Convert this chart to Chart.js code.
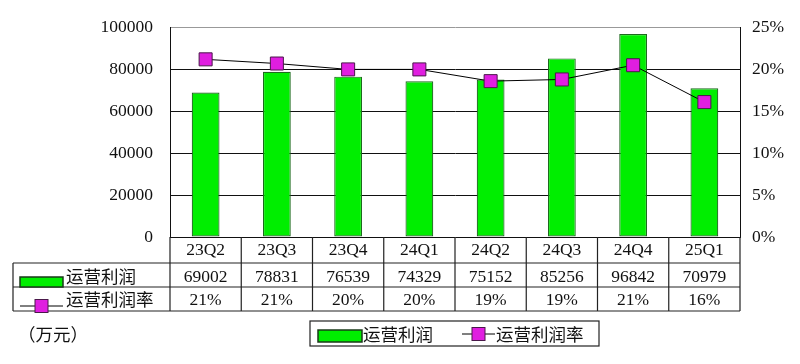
<!DOCTYPE html>
<html>
<head>
<meta charset="utf-8">
<script src="https://cdn.jsdelivr.net/npm/chart.js@4/dist/chart.umd.min.js"></script>
<style>
  html, body { margin: 0; padding: 0; background: #fff; }
  #wrap { width: 800px; height: 364px; }
</style>
</head>
<body>
<div id="wrap"><canvas id="chart" width="800" height="364"></canvas></div>
<script>
const quarters = ["23Q2", "23Q3", "23Q4", "24Q1", "24Q2", "24Q3", "24Q4", "25Q1"];
const profit = [69002, 78831, 76539, 74329, 75152, 85256, 96842, 70979];
const margin = [0.212, 0.207, 0.200, 0.200, 0.186, 0.188, 0.205, 0.161];
const marginLabels = ["21%", "21%", "20%", "20%", "19%", "19%", "21%", "16%"];
const profitName = "运营利润";
const marginName = "运营利润率";
const unitLabel = "（万元）";

const GREEN = "#00ee00";
const GREEN_EDGE = "#1e6a1e";
const PINK = "#e01ee0";
const PINK_EDGE = "#4a184a";
const NUM_FAMILY = "'Liberation Serif', 'DejaVu Serif', serif";
const NUM_FONT = "17.5px " + NUM_FAMILY;
const CJK_FONT = "17.5px 'Noto Sans CJK SC', sans-serif";

function drawSwatch(ctx, x, y, w, h) {
    ctx.fillStyle = GREEN;
    ctx.fillRect(x, y, w, h);
    ctx.strokeStyle = "#1a3a1a";
    ctx.lineWidth = 1.5;
    ctx.strokeRect(x, y, w, h);
}

function drawLineMarker(ctx, x1, x2, y) {
    ctx.strokeStyle = "#000";
    ctx.lineWidth = 1;
    ctx.beginPath();
    ctx.moveTo(x1, y);
    ctx.lineTo(x2, y);
    ctx.stroke();
    const cx = (x1 + x2) / 2;
    ctx.fillStyle = PINK;
    ctx.fillRect(cx - 6.5, y - 6.5, 13, 13);
    ctx.strokeStyle = PINK_EDGE;
    ctx.strokeRect(cx - 6.5, y - 6.5, 13, 13);
}

// data table under the plot + legend box, laid out from the x scale
const tablePlugin = {
    id: "dataTable",
    afterDraw(chart) {
        const ctx = chart.ctx;
        const x = chart.scales.x;
        const area = chart.chartArea;
        const half = (area.right - area.left) / quarters.length / 2;
        const rows = [area.bottom, area.bottom + 26, area.bottom + 50, area.bottom + 74];
        const tableLeft = 13;

        ctx.save();
        ctx.strokeStyle = "#222";
        ctx.lineWidth = 1.2;
        ctx.beginPath();
        for (let r = 1; r < rows.length; r++) {
            ctx.moveTo(tableLeft, rows[r]);
            ctx.lineTo(area.right, rows[r]);
        }
        ctx.moveTo(tableLeft, rows[1]);
        ctx.lineTo(tableLeft, rows[3]);
        ctx.moveTo(area.left, rows[0]);
        ctx.lineTo(area.left, rows[3]);
        quarters.forEach((q, i) => {
            const right = x.getPixelForValue(i) + half;
            ctx.moveTo(right, rows[0]);
            ctx.lineTo(right, rows[3]);
        });
        ctx.stroke();

        ctx.fillStyle = "#111";
        ctx.textAlign = "center";
        ctx.textBaseline = "middle";
        ctx.font = NUM_FONT;
        quarters.forEach((q, i) => {
            const cx = x.getPixelForValue(i);
            ctx.fillText(q, cx, rows[0] + 13);
            ctx.fillText(String(profit[i]), cx, rows[1] + 14);
            ctx.fillText(marginLabels[i], cx, rows[2] + 13);
        });

        // row headers
        drawSwatch(ctx, 20, rows[1] + 14, 43, 10);
        drawLineMarker(ctx, 20, 63, rows[3] - 5);
        ctx.fillStyle = "#111";
        ctx.textAlign = "left";
        ctx.font = CJK_FONT;
        ctx.fillText(profitName, 66, rows[1] + 13);
        ctx.fillText(marginName, 66, rows[2] + 12);

        // unit
        ctx.fillText(unitLabel, 18, 334);

        // legend box
        ctx.strokeStyle = "#222";
        ctx.lineWidth = 1.2;
        ctx.strokeRect(310, 321, 289, 25);
        drawSwatch(ctx, 318, 330, 44, 12);
        ctx.fillStyle = "#111";
        ctx.fillText(profitName, 363, 334);
        drawLineMarker(ctx, 462, 495, 334);
        ctx.fillStyle = "#111";
        ctx.fillText(marginName, 496, 334);
        ctx.restore();
    }
};

new Chart(document.getElementById("chart"), {
    type: "bar",
    data: {
        labels: quarters,
        datasets: [
            {
                type: "line",
                label: marginName,
                data: margin,
                yAxisID: "y1",
                order: 0,
                borderColor: "#000",
                borderWidth: 1,
                pointStyle: "rect",
                pointRadius: 9.2,
                pointBackgroundColor: PINK,
                pointBorderColor: PINK_EDGE,
                pointBorderWidth: 1,
                tension: 0,
            },
            {
                label: profitName,
                data: profit,
                yAxisID: "y",
                order: 1,
                backgroundColor: GREEN,
                borderColor: GREEN_EDGE,
                borderWidth: 1.2,
                borderSkipped: false,
                categoryPercentage: 1,
                barPercentage: 0.39,
            },
        ],
    },
    options: {
        responsive: false,
        animation: false,
        devicePixelRatio: 1,
        layout: { padding: { top: 24, bottom: 127, left: 0, right: 0 } },
        plugins: {
            legend: { display: false },
            tooltip: { enabled: false },
        },
        scales: {
            x: { display: false },
            y: {
                position: "left",
                min: 0,
                max: 100000,
                afterFit: (scale) => { scale.width = 170; },
                ticks: {
                    stepSize: 20000,
                    padding: 17,
                    color: "#111",
                    font: { family: NUM_FAMILY, size: 17.5 },
                    callback: (v) => String(v),
                },
                grid: {
                    drawTicks: false,
                    color: (c) => (c.tick && c.tick.value === 100000 ? "#999" : "#111"),
                    lineWidth: 1,
                },
                border: { display: true, color: "#111", width: 1 },
            },
            y1: {
                position: "right",
                min: 0,
                max: 0.25,
                afterFit: (scale) => { scale.width = 60; },
                ticks: {
                    stepSize: 0.05,
                    padding: 12,
                    color: "#111",
                    font: { family: NUM_FAMILY, size: 17.5 },
                    callback: (v) => Math.round(v * 100) + "%",
                },
                grid: { drawOnChartArea: false, drawTicks: false },
                border: { display: true, color: "#111", width: 1 },
            },
        },
    },
    plugins: [tablePlugin],
});
</script>
</body>
</html>
